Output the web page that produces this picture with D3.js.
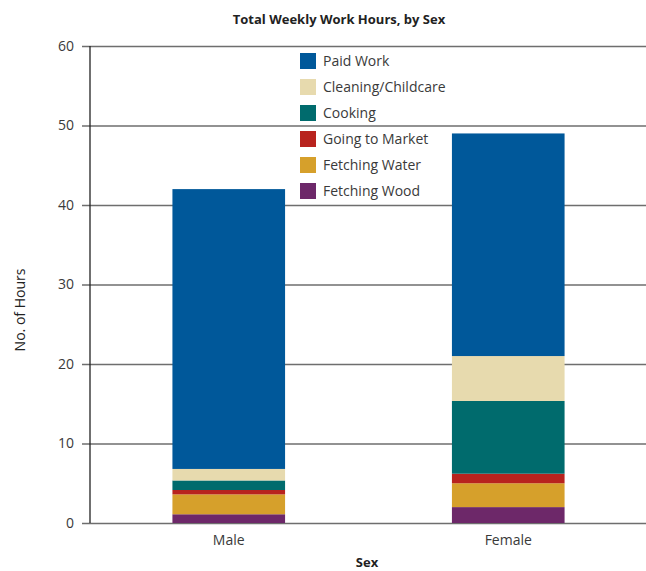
<!DOCTYPE html>
<html>
<head>
<meta charset="utf-8">
<script src="https://cdn.jsdelivr.net/npm/d3@7"></script>
<style>
  body { margin: 0; background: #fff; }
  svg { display: block; font-family: "Open Sans", "Noto Sans", sans-serif; }
</style>
</head>
<body>
<svg id="chart" width="646" height="571"></svg>
<script>
// Weekly hours by activity, stacked bottom to top
const sexes = ["Male", "Female"];
const activities = ["Fetching Wood", "Fetching Water", "Going to Market", "Cooking", "Cleaning/Childcare", "Paid Work"];
const maleHours   = [1.1, 2.5, 0.55, 1.2, 1.45, 35.2];
const femaleHours = [2.0, 3.0, 1.2, 9.15, 5.65, 28.0];
const yTicks = [0, 10, 20, 30, 40, 50, 60];
const colors = ["#6d2869", "#d6a02b", "#b8231e", "#006b6d", "#e7daae", "#00589a"];

const svg = d3.select("#chart");
const margin = { left: 90, right: 0, top: 46, bottom: 48 };
const W = 646, H = 571;
const plotBottom = H - margin.bottom;

const rows = sexes.map((s, i) => {
  const vals = i === 0 ? maleHours : femaleHours;
  const r = { sex: s };
  activities.forEach((a, j) => r[a] = vals[j]);
  return r;
});
const series = d3.stack().keys(activities)(rows);

const x = d3.scaleBand().domain(sexes).range([89, 648]).padding(0);
const y = d3.scaleLinear().domain([0, 60]).range([plotBottom, margin.top]);
const color = d3.scaleOrdinal().domain(activities).range(colors);
const barW = x.bandwidth() * 0.403;

// Horizontal gridlines with ticks reaching left of the axis
const yAxis = d3.axisLeft(y).tickValues(yTicks).tickSize(-(W - margin.left)).tickPadding(16);
const gy = svg.append("g").attr("transform", `translate(${margin.left},0)`).call(yAxis);
gy.select(".domain").remove();
gy.selectAll(".tick line").attr("x1", -8).attr("stroke", "#6e6e6e").attr("stroke-width", 1.6);
gy.selectAll(".tick text").attr("font-size", 14).attr("fill", "#3a3a3a")
  .attr("font-family", "'Open Sans', 'Noto Sans', sans-serif");

// Stacked bars
svg.append("g").selectAll("g").data(series).join("g")
  .attr("fill", d => color(d.key))
  .selectAll("rect").data(d => d).join("rect")
  .attr("x", d => x(d.data.sex) + (x.bandwidth() - barW) / 2)
  .attr("width", barW)
  .attr("y", d => y(d[1]))
  .attr("height", d => y(d[0]) - y(d[1]));

// Vertical axis line
svg.append("line")
  .attr("x1", margin.left).attr("x2", margin.left)
  .attr("y1", y(60)).attr("y2", y(0))
  .attr("stroke", "#222").attr("stroke-width", 1.3);

// Category labels
const xAxis = d3.axisBottom(x).tickSize(0).tickPadding(12);
const gx = svg.append("g").attr("transform", `translate(0,${plotBottom})`).call(xAxis);
gx.select(".domain").remove();
gx.selectAll(".tick text").attr("font-size", 14).attr("fill", "#3a3a3a")
  .attr("font-family", "'Open Sans', 'Noto Sans', sans-serif");

// Titles
svg.append("text").attr("x", 339).attr("y", 24).attr("text-anchor", "middle")
  .attr("font-size", 13).attr("font-weight", "bold").attr("fill", "#222")
  .text("Total Weekly Work Hours, by Sex");
svg.append("text").attr("x", 367).attr("y", 567).attr("text-anchor", "middle")
  .attr("font-size", 13).attr("font-weight", "bold").attr("fill", "#222")
  .text("Sex");
svg.append("text").attr("transform", `translate(25,310) rotate(-90)`).attr("text-anchor", "middle")
  .attr("font-size", 14).attr("fill", "#222")
  .text("No. of Hours");

// Legend, top to bottom
const legendItems = activities.slice().reverse();
const lg = svg.append("g").attr("transform", "translate(300,53)");
const li = lg.selectAll("g").data(legendItems).join("g")
  .attr("transform", (d, i) => `translate(0,${i * 26})`);
li.append("rect").attr("width", 16).attr("height", 16).attr("fill", d => color(d));
li.append("text").attr("x", 23).attr("y", 13).attr("font-size", 14).attr("fill", "#3a3a3a").text(d => d);
</script>
</body>
</html>
